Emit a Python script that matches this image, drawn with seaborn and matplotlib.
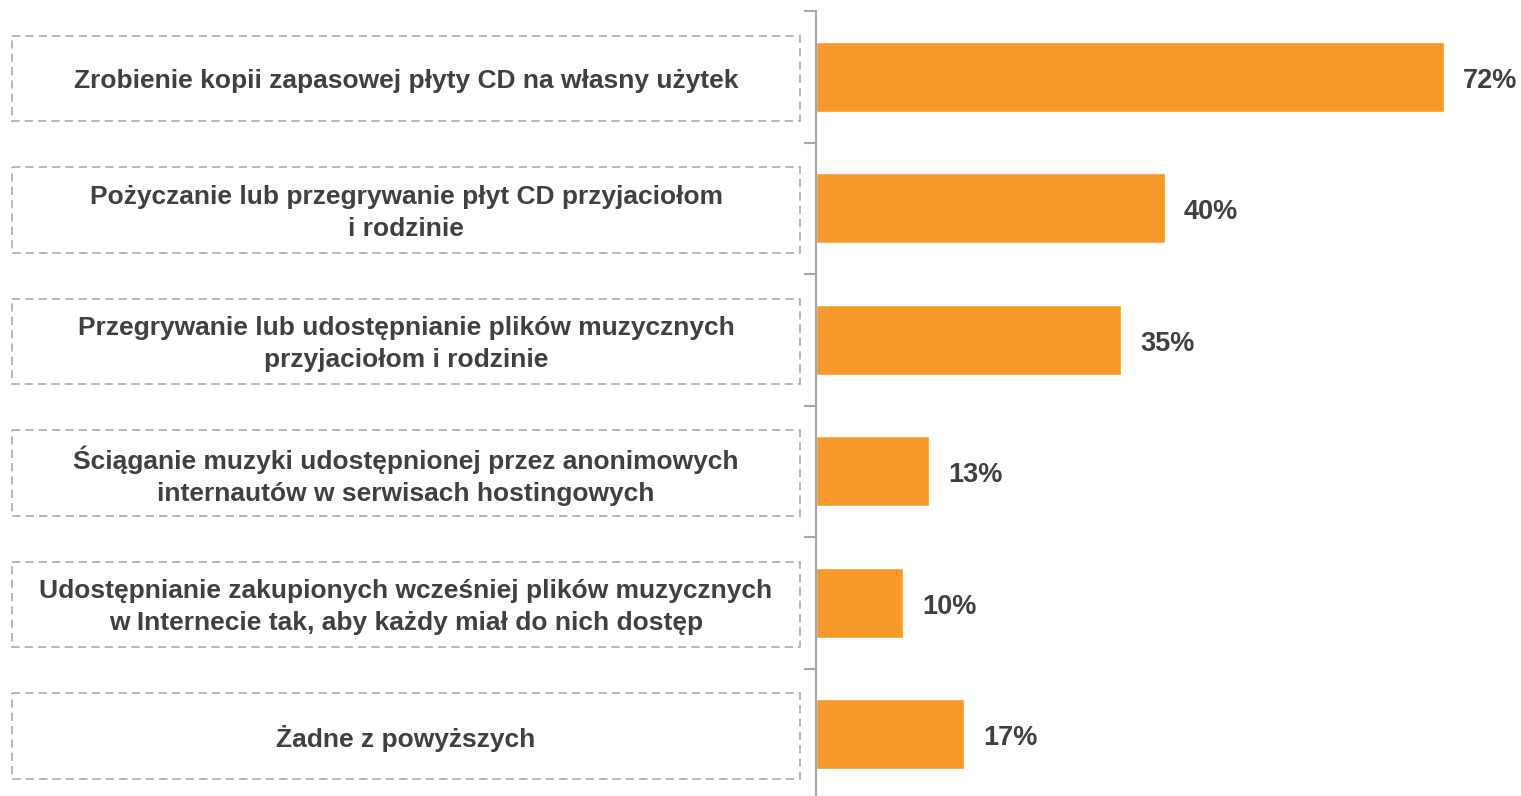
import numpy as np
import pandas as pd
import seaborn as sns
import matplotlib.pyplot as plt
from matplotlib.patches import Rectangle
from matplotlib.transforms import blended_transform_factory

labels = [
    "Zrobienie kopii zapasowej płyty CD na własny użytek",
    "Pożyczanie lub przegrywanie płyt CD przyjaciołom\ni rodzinie",
    "Przegrywanie lub udostępnianie plików muzycznych\nprzyjaciołom i rodzinie",
    "Ściąganie muzyki udostępnionej przez anonimowych\ninternautów w serwisach hostingowych",
    "Udostępnianie zakupionych wcześniej plików muzycznych\nw Internecie tak, aby każdy miał do nich dostęp",
    "Żadne z powyższych",
]
values = [72, 40, 35, 13, 10, 17]

df = pd.DataFrame({"label": labels, "value": values})

sns.set_theme(style="white")
plt.rcParams["font.family"] = ["Liberation Sans", "DejaVu Sans"]

text_color = "#404040"
bar_color = "#F7982A"
axis_color = "#A6A6A6"

W, H = 1521, 796
fig = plt.figure(figsize=(W / 100, H / 100), dpi=100)
# axes: left edge at x=816, top at y=11, 131.5 px per category
ax = fig.add_axes([816 / W, -4 / H, (W - 816) / W, 789 / H])

sns.barplot(data=df, y="label", x="value", orient="h", color=bar_color,
            width=0.53, saturation=1, ax=ax)

ax.set_xlim(0, (W - 816) / 8.72)
ax.set_ylim(len(labels) - 0.5, -0.5)
ax.set_xlabel("")
ax.set_ylabel("")
ax.set_xticks([])
ax.set_yticks(np.arange(len(labels)))
ax.set_yticklabels([])
ax.tick_params(axis="y", which="major", length=0)
ax.set_yticks(np.arange(len(labels) + 1) - 0.5, minor=True)
ax.tick_params(axis="y", which="minor", length=9, width=1.5, color=axis_color, left=True)
for side in ["top", "right", "bottom"]:
    ax.spines[side].set_visible(False)
ax.spines["left"].set_color(axis_color)
ax.spines["left"].set_linewidth(1.5)

# value labels
for i, v in enumerate(values):
    ax.text(v + 19 / 8.72, i + 0.03, f"{v}%", va="center", ha="left",
            fontsize=19.5, fontweight="bold", color=text_color)

# category labels in dashed boxes
trans = blended_transform_factory(fig.transFigure, ax.transData)
box_h = 0.65
for i, lab in enumerate(labels):
    rect = Rectangle((12 / W, i - box_h / 2 + 0.015), (800 - 12) / W, box_h,
                     transform=trans, fill=False, edgecolor="#AAAAAA",
                     linewidth=1.2, linestyle=(0, (5, 3)), clip_on=False)
    fig.add_artist(rect)
    fig.text(406 / W, i + 0.035, lab, transform=trans, ha="center", va="center",
             fontsize=19, fontweight="bold", color=text_color, linespacing=1.42,
             multialignment="center")

fig.savefig("out.png", dpi=100)
